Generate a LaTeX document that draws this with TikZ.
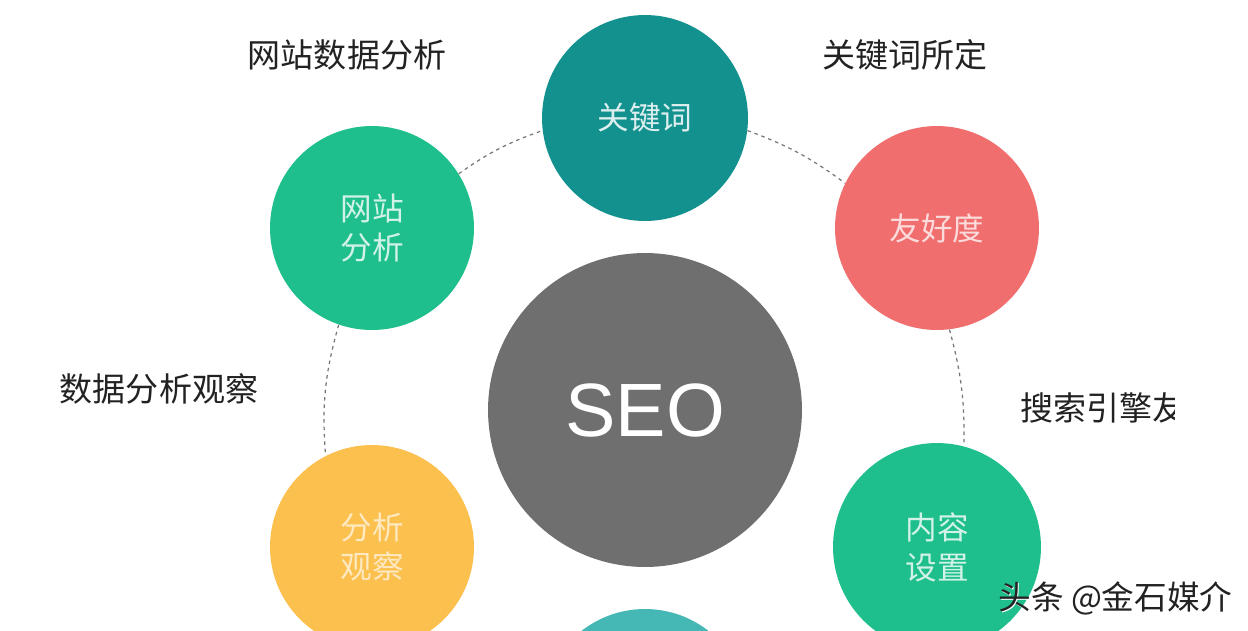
\documentclass[tikz,border=0pt]{standalone}
\usepackage{fontspec}
\setmainfont{Noto Sans CJK SC}
\newfontfamily\latinsans{Liberation Sans}
\definecolor{kwteal}{HTML}{12918F}
\definecolor{salmon}{HTML}{F06E6D}
\definecolor{mint}{HTML}{1FBF8D}
\definecolor{amber}{HTML}{FBC04E}
\definecolor{seogray}{HTML}{6F6F6F}
\definecolor{lteal}{HTML}{45B7B5}
\definecolor{labeltext}{HTML}{222222}
\definecolor{dashgray}{HTML}{777777}
\begin{document}
\begin{tikzpicture}[x=0.02cm,y=-0.02cm,
  bub/.style={circle,inner sep=0pt,minimum size=4.08cm,align=center,
    font=\fontsize{18}{22.7}\selectfont},
  outlabel/.style={text=labeltext,font=\fontsize{18.8}{22}\selectfont,inner sep=0pt},
  link/.style={dashgray,line width=0.7pt,dash pattern=on 2pt off 2.2pt}]
\clip (0,0) rectangle (1248,630);
\fill[white] (0,0) rectangle (1248,630);
% circles
\node[bub,fill=seogray,minimum size=6.28cm,text=white,font=\latinsans\fontsize{43}{50}\selectfont] (seo) at (645,410) {SEO};
\node[bub,fill=kwteal,minimum size=4.12cm,text=white!85!kwteal] (kw) at (645,118) {关键词};
\node[bub,fill=mint,text=white!80!mint] (wz) at (372,228) {网站\\分析};
\node[bub,fill=salmon,text=white!75!salmon] (yh) at (937,228) {友好度};
\node[bub,fill=amber,text=white!65!amber] (gc) at (372,547) {分析\\观察};
\node[bub,fill=mint,minimum size=4.16cm,text=white!80!mint] (nr) at (937,547) {内容\\设置};
\node[bub,fill=lteal,minimum size=4.12cm] (bt) at (645,712) {};
% dashed links
\draw[link] (wz.32) to[bend left=8] (kw.187);
\draw[link] (kw.-7) to[bend left=8] (yh.154);
\draw[link] (wz.251) to[bend right=10] (gc.117);
\draw[link] (yh.-83) to[bend left=8] (nr.75);
% outer labels
\node[outlabel] (l1) at (347,55) {网站数据分析};
\node[outlabel] (l2) at (905,55) {关键词所定};
\node[outlabel] (l3) at (159,389) {数据分析观察};
\begin{scope}
\clip (1000,370) rectangle (1174,450);
\node[outlabel,anchor=west] (l4) at (1020,408) {搜索引擎友};
\end{scope}
% watermark
\node[text=white,font=\fontsize{18.6}{20}\selectfont,inner sep=0pt,anchor=west] at (999.5,599.5) {头条 @金石媒介};
\node[text=labeltext,font=\fontsize{18.6}{20}\selectfont,inner sep=0pt,anchor=west] (wm) at (998,598) {头条 @金石媒介};
\end{tikzpicture}
\end{document}
